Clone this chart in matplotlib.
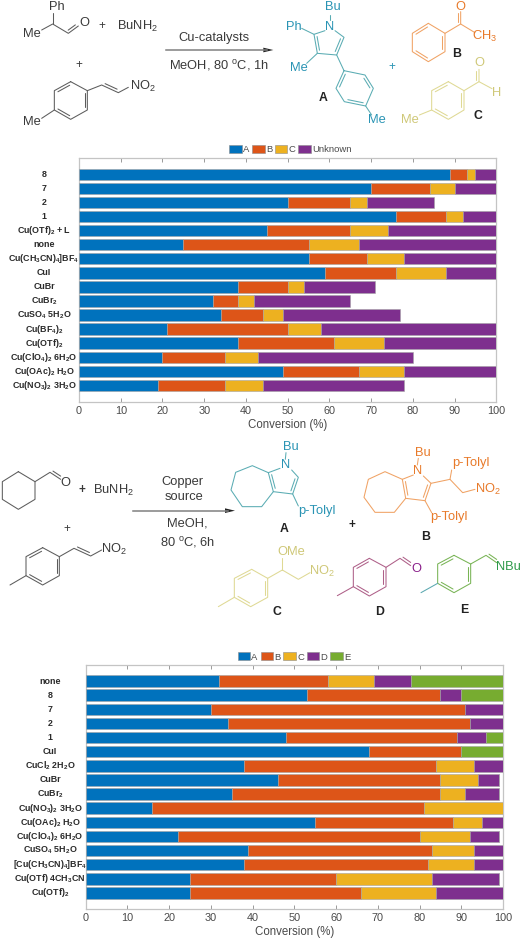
import numpy as np
import matplotlib
matplotlib.use("Agg")
import matplotlib.pyplot as plt
from matplotlib.patches import Patch

plt.rcParams['font.family'] = ['Liberation Sans', 'DejaVu Sans']
plt.rcParams['mathtext.fontset'] = 'custom'
plt.rcParams['mathtext.rm'] = 'Liberation Sans'
plt.rcParams['mathtext.bf'] = 'Liberation Sans:bold'
plt.rcParams['mathtext.default'] = 'rm'

W, H = 522, 940

# ---- data: first chart
cats1 = ['8', '7', '2', '1', r'Cu(OTf)$_{\mathbf{2}}$ + L', 'none',
         r'Cu(CH$_{\mathbf{3}}$CN)$_{\mathbf{4}}$]BF$_{\mathbf{4}}$', 'CuI', 'CuBr',
         r'CuBr$_{\mathbf{2}}$', r'CuSO$_{\mathbf{4}}$ 5H$_{\mathbf{2}}$O',
         r'Cu(BF$_{\mathbf{4}}$)$_{\mathbf{2}}$', r'Cu(OTf)$_{\mathbf{2}}$',
         r'Cu(ClO$_{\mathbf{4}}$)$_{\mathbf{2}}$ 6H$_{\mathbf{2}}$O',
         r'Cu(OAc)$_{\mathbf{2}}$ H$_{\mathbf{2}}$O',
         r'Cu(NO$_{\mathbf{3}}$)$_{\mathbf{2}}$ 3H$_{\mathbf{2}}$O']
a1 = [89, 70, 50, 76, 45, 25, 55, 59, 38, 32, 34, 21, 38, 20, 49, 19]
b1 = [4, 14, 15, 12, 20, 30, 14, 17, 12, 6, 10, 29, 23, 15, 18, 16]
c1 = [2, 6, 4, 4, 9, 12, 9, 12, 4, 4, 5, 8, 12, 8, 11, 9]
u1 = [5, 10, 16, 8, 26, 33, 22, 12, 17, 23, 28, 42, 27, 37, 22, 34]

# ---- data: second chart
cats2 = ['none', '8', '7', '2', '1', 'CuI', r'CuCl$_{\mathbf{2}}$ 2H$_{\mathbf{2}}$O', 'CuBr',
         r'CuBr$_{\mathbf{2}}$', r'Cu(NO$_{\mathbf{3}}$)$_{\mathbf{2}}$ 3H$_{\mathbf{2}}$O',
         r'Cu(OAc)$_{\mathbf{2}}$ H$_{\mathbf{2}}$O',
         r'Cu(ClO$_{\mathbf{4}}$)$_{\mathbf{2}}$ 6H$_{\mathbf{2}}$O',
         r'CuSO$_{\mathbf{4}}$ 5H$_{\mathbf{2}}$O',
         r'[Cu(CH$_{\mathbf{3}}$CN)$_{\mathbf{4}}$]BF$_{\mathbf{4}}$',
         r'Cu(OTf) 4CH$_{\mathbf{3}}$CN', r'Cu(OTf)$_{\mathbf{2}}$']
a2 = [32, 53, 30, 34, 48, 68, 38, 46, 35, 16, 55, 22, 39, 38, 25, 25]
b2 = [26, 32, 61, 58, 41, 22, 46, 39, 50, 65, 33, 58, 44, 44, 35, 41]
c2 = [11, 0, 0, 0, 0, 0, 9, 9, 6, 19, 7, 12, 10, 11, 23, 18]
d2 = [9, 5, 9, 8, 7, 0, 7, 5, 8, 0, 5, 7, 7, 7, 16, 16]
e2 = [22, 10, 0, 0, 4, 10, 0, 0, 0, 0, 0, 0, 0, 0, 0, 0]

xticks = list(range(0, 101, 10))
colors = ['#0072BD', '#DD5518', '#EDB120', '#7E2F8E', '#77AC30']
GREY = '#c4c4c4'
TXT = '#4a4a4a'

fig = plt.figure(figsize=(W / 100, H / 100), dpi=100)


def make_axes(x0, x1, ytop, ybot):
    return fig.add_axes([x0 / W, 1 - ybot / H, (x1 - x0) / W, (ybot - ytop) / H])


def stacked(ax, cats, series, names, labx, legx, legy):
    n = len(cats)
    pos = np.arange(n)
    left = np.zeros(n)
    for vals, col, name in zip(series, colors, names):
        ax.barh(pos, vals, left=left, height=0.81, color=col,
                edgecolor='#a4a4a4', linewidth=0.4, label=name, zorder=3)
        left = left + np.array(vals)
    ax.set_xlim(0, 100)
    ax.set_ylim(n - 1 + 1.16, -1.16)
    ax.set_xticks(xticks)
    ax.tick_params(axis='x', which='both', direction='in', top=True, bottom=True,
                   length=3, width=0.7, color='#9a9a9a', labelsize=7.8, labelcolor=TXT, pad=3)
    ax.set_yticks([])
    for s in ax.spines.values():
        s.set_color(GREY)
        s.set_linewidth(0.9)
    ax.set_xlabel('Conversion (%)', fontsize=8.3, color=TXT, labelpad=2)
    for p, c in zip(pos, cats):
        ax.text(labx, p, c, transform=ax.get_yaxis_transform(), ha='center', va='center',
                fontsize=6.4, fontweight='bold', color='#2a2a2a')
    handles = [Patch(facecolor=col, edgecolor='#8c8c8c', linewidth=0.4, label=nm)
               for col, nm in zip(colors, names)]
    fig.legend(handles=handles, loc='center', ncol=len(names),
               bbox_to_anchor=(legx / W, 1 - legy / H), frameon=False, fontsize=6.8,
               labelcolor=TXT, handlelength=1.3, handleheight=0.95, handletextpad=0.15,
               columnspacing=0.3, borderpad=0, borderaxespad=0)


ax1 = make_axes(79, 496.3, 158, 401.7)
stacked(ax1, cats1, [a1, b1, c1, u1], ['A', 'B', 'C', 'Unknown'],
        (44 - 79) / (496.3 - 79), 290.5, 149.5)
ax2 = make_axes(85.7, 503, 664.7, 909.3)
stacked(ax2, cats2, [a2, b2, c2, d2, e2], ['A', 'B', 'C', 'D', 'E'],
        (50 - 85.7) / (503 - 85.7), 294, 657)

# ---- overlay for the chemical schemes, pixel coordinates
ov = fig.add_axes([0, 0, 1, 1], facecolor='none')
ov.set_xlim(0, W)
ov.set_ylim(H, 0)
ov.axis('off')

DK = '#5c5c5c'
TEAL_L, TEAL_T = '#5aacb3', '#2a94b4'
OR_L, OR_T = '#f0a264', '#e87a2a'
YE_L, YE_T = '#dfd994', '#cfc878'
PU_L, PU_T = '#ae5f88', '#8a1f8a'
GR_L, GR_T = '#78b455', '#2e9a4a'
LW = 0.75


def z(pts, oy=0):
    return [(x / 3, oy + y / 3) for x, y in pts]


def line(pts, col, oy=0, lw=LW):
    p = np.array(z(pts, oy))
    ov.plot(p[:, 0], p[:, 1], color=col, lw=lw, solid_capstyle='round', solid_joinstyle='round')


def dbl(p, q, toward, col, oy=0, gap=8, lw=LW):
    p, q, t_ = np.array(p, float), np.array(q, float), np.array(toward, float)
    d = q - p
    n = np.array([-d[1], d[0]]) / np.hypot(*d)
    if np.dot(t_ - p, n) < 0:
        n = -n
    a = p + 0.14 * d + gap * n
    b = q - 0.14 * d + gap * n
    line([a, b], col, oy, lw)


def ring(v, col, oy=0, inner=(0, 2, 4)):
    line(list(v) + [v[0]], col, oy)
    cen = np.mean(np.array(v, float), axis=0)
    for i in inner:
        dbl(v[i], v[(i + 1) % len(v)], cen, col, oy)


def t(x, y, s, col='#3a3a3a', fs=9.3, oy=0, **kw):
    ov.text(x / 3, oy + y / 3, s, color=col, fontsize=fs, ha='center', va='center', **kw)


def lab(x, y, s, oy=0):
    t(x, y, s, '#222222', 8.8, oy, fontweight='bold')


def arrow(x0, x1, y, oy=0):
    ov.plot([x0 / 3, (x1 - 20) / 3], [oy + y / 3] * 2, color='#808080', lw=1.1)
    ov.fill([(x1 - 30) / 3, x1 / 3, (x1 - 30) / 3],
            [oy + (y - 7) / 3, oy + y / 3, oy + (y + 7) / 3], color='#222222', lw=0)


# ---------- scheme 1 (coordinates = zoom px of the 3x crop at y=0)
t(170, 20, 'Ph')
t(95, 103, 'Me')
line([(158, 40), (158, 72)], DK)
line([(125, 90), (158, 72), (205, 100), (235, 78)], DK)
dbl((205, 100), (235, 78), (200, 70), DK)
t(252, 70, 'O')
t(305, 78, '+', fs=8.5)
t(412, 80, r'BuNH$_2$')
t(238, 195, '+', fs=8.5)
ring([(212, 245), (262, 272), (262, 330), (212, 358), (163, 330), (163, 272)], DK, inner=(1, 3, 5))
line([(125, 355), (163, 330)], DK)
t(97, 367, 'Me')
line([(262, 272), (305, 255), (355, 278), (385, 262)], DK)
dbl((305, 255), (355, 278), (340, 240), DK)
t(428, 258, r'NO$_2$')
arrow(497, 820, 150)
t(643, 115, 'Cu-catalysts')
t(655, 198, 'MeOH, 80 $^{\\rm o}$C, 1h')
# product A
t(1000, 22, 'Bu', TEAL_T)
line([(990, 45), (990, 60)], TEAL_L)
t(990, 80, 'N', TEAL_T)
t(880, 82, 'Ph', TEAL_T)
line([(905, 85), (942, 103), (975, 92)], TEAL_L)
line([(942, 103), (952, 160), (1010, 165), (1032, 112), (1005, 92)], TEAL_L)
dbl((942, 103), (952, 160), (990, 130), TEAL_L)
dbl((1010, 165), (1032, 112), (990, 130), TEAL_L)
line([(952, 160), (920, 190)], TEAL_L)
t(898, 203, 'Me', TEAL_T)
line([(1010, 165), (1032, 212)], TEAL_L)
ring([(1032, 212), (1095, 225), (1120, 265), (1097, 318), (1033, 305), (1008, 265)], TEAL_L, inner=(1, 3, 5))
line([(1097, 318), (1115, 345)], TEAL_L)
t(1130, 360, 'Me', TEAL_T)
lab(968, 295, 'A')
t(1175, 200, '+', TEAL_T, 8.5)
# B
ring([(1285, 70), (1335, 100), (1335, 155), (1285, 185), (1237, 155), (1237, 100)], OR_L, inner=(1, 3, 5))
line([(1335, 100), (1382, 72), (1382, 35)], OR_L)
dbl((1382, 72), (1382, 35), (1360, 50), OR_L)
line([(1382, 72), (1425, 98)], OR_L)
t(1382, 20, 'O', OR_T)
t(1455, 110, r'CH$_3$', OR_T)
lab(1370, 162, 'B')
# C
ring([(1345, 245), (1392, 272), (1392, 330), (1345, 358), (1295, 330), (1295, 272)], YE_L, inner=(1, 3, 5))
line([(1392, 272), (1437, 245), (1437, 208)], YE_L)
dbl((1437, 245), (1437, 208), (1420, 225), YE_L)
line([(1437, 245), (1476, 266)], YE_L)
t(1438, 190, 'O', YE_T)
t(1490, 280, 'H', YE_T)
line([(1258, 345), (1295, 330)], YE_L)
t(1230, 360, 'Me', YE_T)
lab(1433, 347, 'C')

# ---------- scheme 2 part 1 (3x crop at y=420)
o = 420
ring([(55, 155), (105, 185), (105, 238), (55, 268), (7, 238), (7, 185)], DK, o, inner=())
line([(105, 185), (150, 157), (182, 178)], DK, o)
dbl((150, 157), (182, 178), (190, 150), DK, o)
t(195, 188, 'O', oy=o)
t(247, 210, '+', fs=8.5, oy=o, fontweight='bold')
t(340, 211, r'BuNH$_2$', oy=o)
arrow(400, 705, 272, o)
t(547, 185, 'Copper', oy=o)
t(553, 230, 'source', oy=o)
t(562, 312, 'MeOH,', oy=o)
t(562, 366, '80 $^{\\rm o}$C, 6h', oy=o)
t(202, 328, '+', fs=8.5, oy=o)
# A
line([(805, 158), (757, 137), (707, 157), (693, 210), (727, 260), (785, 260), (820, 215)], TEAL_L, o)
line([(840, 145), (805, 158), (820, 215), (878, 222), (895, 172), (875, 150)], TEAL_L, o)
dbl((805, 158), (820, 215), (855, 185), TEAL_L, o)
dbl((878, 222), (895, 172), (855, 185), TEAL_L, o)
t(856, 136, 'N', TEAL_T, oy=o)
t(872, 80, 'Bu', TEAL_T, oy=o)
line([(858, 98), (856, 118)], TEAL_L, o)
line([(878, 222), (895, 258)], TEAL_L, o)
t(950, 273, 'p-Tolyl', TEAL_T, oy=o)
lab(853, 328, 'A', o)
t(1057, 315, '+', '#222222', 8.5, o, fontweight='bold')
# B
line([(1207, 178), (1155, 155), (1105, 178), (1092, 232), (1125, 277), (1183, 277), (1217, 235)], OR_L, o)
line([(1240, 165), (1207, 178), (1217, 235), (1275, 242), (1293, 190), (1270, 168)], OR_L, o)
dbl((1207, 178), (1217, 235), (1250, 205), OR_L, o)
dbl((1275, 242), (1293, 190), (1250, 205), OR_L, o)
t(1253, 153, 'N', OR_T, oy=o)
t(1270, 98, 'Bu', OR_T, oy=o)
line([(1255, 115), (1252, 135)], OR_L, o)
line([(1293, 190), (1350, 178), (1355, 150)], OR_L, o)
line([(1350, 178), (1388, 218), (1425, 208)], OR_L, o)
t(1414, 128, 'p-Tolyl', OR_T, oy=o)
t(1464, 208, r'NO$_2$', OR_T, oy=o)
line([(1275, 242), (1295, 278)], OR_L, o)
t(1347, 292, 'p-Tolyl', OR_T, oy=o)
lab(1276, 352, 'B', o)

# ---------- scheme 2 part 2 (3x crop at y=480)
o = 480
ring([(128, 203), (178, 230), (178, 287), (128, 315), (78, 287), (78, 230)], DK, o, inner=(1, 3, 5))
line([(30, 315), (78, 287)], DK, o)
line([(178, 230), (222, 205), (272, 228), (305, 210)], DK, o)
dbl((222, 205), (272, 228), (260, 190), DK, o)
t(343, 207, r'NO$_2$', oy=o)
# C
ring([(755, 268), (803, 295), (803, 352), (752, 380), (703, 352), (703, 295)], YE_L, o, inner=(1, 3, 5))
line([(655, 380), (703, 352)], YE_L, o)
line([(803, 295), (847, 270), (895, 298), (930, 278)], YE_L, o)
line([(847, 270), (847, 235)], YE_L, o)
t(873, 217, 'OMe', YE_T, oy=o)
t(965, 275, r'NO$_2$', YE_T, oy=o)
lab(830, 395, 'C', o)
# D
ring([(1108, 235), (1158, 262), (1158, 320), (1108, 348), (1060, 320), (1060, 262)], PU_L, o, inner=(1, 3, 5))
line([(1012, 347), (1060, 320)], PU_L, o)
line([(1158, 262), (1200, 235), (1232, 257)], PU_L, o)
dbl((1200, 235), (1232, 257), (1240, 230), PU_L, o)
t(1250, 267, 'O', PU_T, oy=o)
lab(1140, 397, 'D', o)
# E
ring([(1362, 226), (1412, 252), (1412, 310), (1362, 338), (1313, 310), (1313, 252)], GR_L, o, inner=(1, 3, 5))
line([(1263, 338), (1313, 310)], '#5aa8b0', o)
line([(1412, 252), (1458, 226), (1490, 248)], GR_L, o)
dbl((1458, 226), (1490, 248), (1490, 225), GR_L, o)
t(1525, 260, 'NBu', GR_T, oy=o)
lab(1392, 390, 'E', o)

fig.savefig('out.png', dpi=100)
